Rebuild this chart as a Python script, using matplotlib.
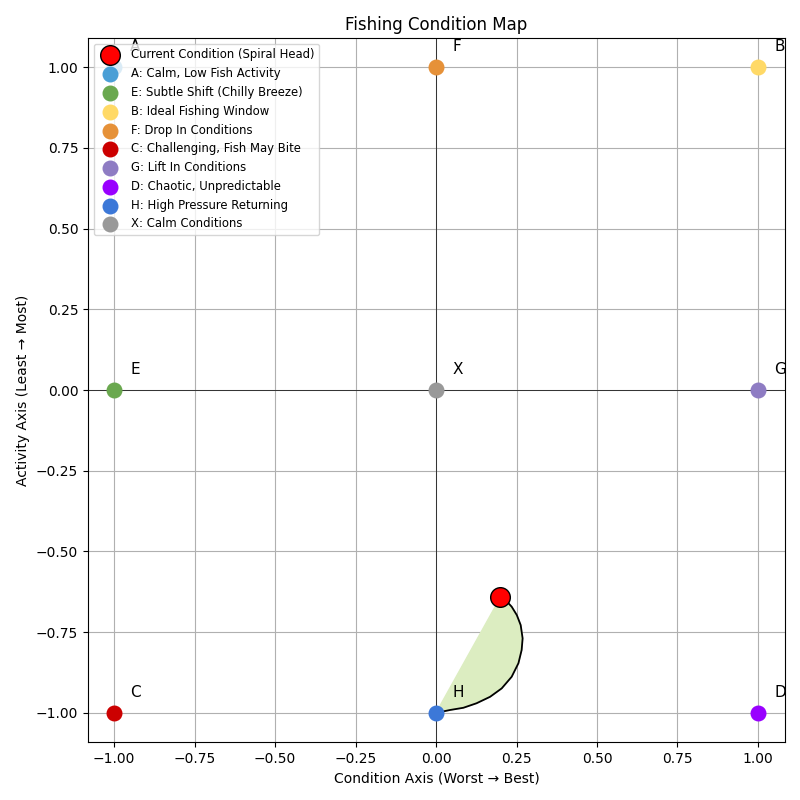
import matplotlib
matplotlib.use("Agg")
import matplotlib.pyplot as plt

# Points
names = ["A", "E", "B", "F", "C", "G", "D", "H", "X"]
descs = ["Calm, Low Fish Activity", "Subtle Shift (Chilly Breeze)", "Ideal Fishing Window",
         "Drop In Conditions", "Challenging, Fish May Bite", "Lift In Conditions",
         "Chaotic, Unpredictable", "High Pressure Returning", "Calm Conditions"]
xs = [-1, -1, 1, 0, -1, 1, 1, 0, 0]
ys = [1, 0, 1, 1, -1, 0, -1, -1, 0]
colors = ["#4a9fd6", "#6aa84f", "#ffd966", "#e69138", "#cc0000", "#8e7cc3",
          "#9900ff", "#3c78d8", "#999999"]

# Spiral path, from H to current condition
spiral_x = [0.0, 0.043, 0.085, 0.126, 0.168, 0.204, 0.235, 0.256, 0.266, 0.269,
            0.263, 0.251, 0.235, 0.220, 0.2]
spiral_y = [-1.0, -0.991, -0.984, -0.970, -0.950, -0.924, -0.888, -0.846, -0.805,
            -0.769, -0.728, -0.697, -0.671, -0.655, -0.642]
current = (0.2, -0.642)

fig = plt.figure(figsize=(8, 8), dpi=100)
ax = fig.add_axes([0.11, 0.0725, 0.87125, 0.88])

ax.fill(spiral_x, spiral_y, color="#dcedc1", zorder=2)
ax.plot(spiral_x, spiral_y, color="black", lw=1.3, zorder=3)

ax.scatter([current[0]], [current[1]], s=200, color="red", edgecolor="black",
           zorder=5, label="Current Condition (Spiral Head)")

for n, d, x, y, c in zip(names, descs, xs, ys, colors):
    ax.scatter([x], [y], s=110, color=c, zorder=4, label=f"{n}: {d}")
    ax.text(x + 0.05, y + 0.05, n, fontsize=11, zorder=4)

ax.axhline(0, color="black", lw=0.5)
ax.axvline(0, color="black", lw=0.5)
ax.grid(True)
ax.set_xlim(-1.081, 1.084)
ax.set_ylim(-1.09, 1.09)
ax.set_title("Fishing Condition Map")
ax.set_xlabel("Condition Axis (Worst \u2192 Best)")
ax.set_ylabel("Activity Axis (Least \u2192 Most)")
ax.legend(loc="upper left", fontsize="small")

fig.savefig("out.png")
